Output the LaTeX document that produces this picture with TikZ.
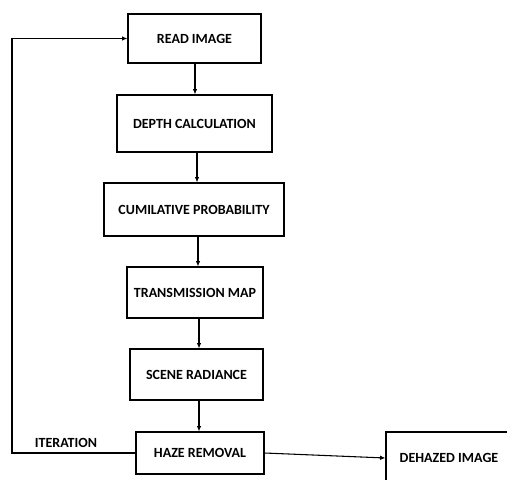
\documentclass[tikz,border=0pt]{standalone}
\usepackage{fontspec}
\setmainfont{Carlito}
\usetikzlibrary{arrows.meta}

\tikzset{
  stepbox/.style={draw, line width=0.9pt, align=center, inner sep=0pt,
    font=\fontsize{10.5}{12}\selectfont\bfseries},
  flow/.style={line width=0.8pt, -{Latex[length=4pt,width=3.5pt]}}
}

\begin{document}
\begin{tikzpicture}[x=0.75pt,y=0.75pt,yscale=-1,xscale=1]
\clip (0,0) rectangle (507,479);

% Boxes
\node (read) at (194.5,38.5) [stepbox, minimum width=133*0.75pt, minimum height=49*0.75pt] {READ IMAGE};
\node (depth) at (194.5,123.5) [stepbox, minimum width=155*0.75pt, minimum height=57*0.75pt] {DEPTH CALCULATION};
\node (cumul) at (194,209.5) [stepbox, minimum width=180*0.75pt, minimum height=53*0.75pt] {CUMILATIVE PROBABILITY};
\node (trans) at (195,292.5) [stepbox, minimum width=136*0.75pt, minimum height=51*0.75pt] {TRANSMISSION MAP};
\node (scene) at (196.5,374.5) [stepbox, minimum width=133*0.75pt, minimum height=51*0.75pt] {SCENE RADIANCE};
\node (haze) at (200,453) [stepbox, minimum width=128*0.75pt, minimum height=42*0.75pt] {HAZE REMOVAL};
\node (dehazed) at (449,458) [stepbox, minimum width=126*0.75pt, minimum height=52*0.75pt] {DEHAZED IMAGE};

% Text Node
\node (iter) at (66,443) [font=\fontsize{10.5}{12}\selectfont\bfseries] {ITERATION};

% Connectors
\draw [flow] (read.south) ++(0.5,0) coordinate (r1) -- (r1 |- depth.north);
\draw [flow] (depth.south) ++(2.5,0) coordinate (d1) -- (d1 |- cumul.north);
\draw [flow] (cumul.south) ++(4,0) coordinate (c1) -- (c1 |- trans.north);
\draw [flow] (trans.south) ++(4,0) coordinate (t1) -- (t1 |- scene.north);
\draw [flow] (scene.south) ++(2.5,0) coordinate (s1) -- (s1 |- haze.north);
\draw [flow] (haze.east) -- (dehazed.west);
\coordinate (lowleft) at (12,453);
\coordinate (upleft) at (12,38.5);
\draw [flow] (haze.west) -- (lowleft) -- (upleft) -- (read.west);

\end{tikzpicture}
\end{document}
